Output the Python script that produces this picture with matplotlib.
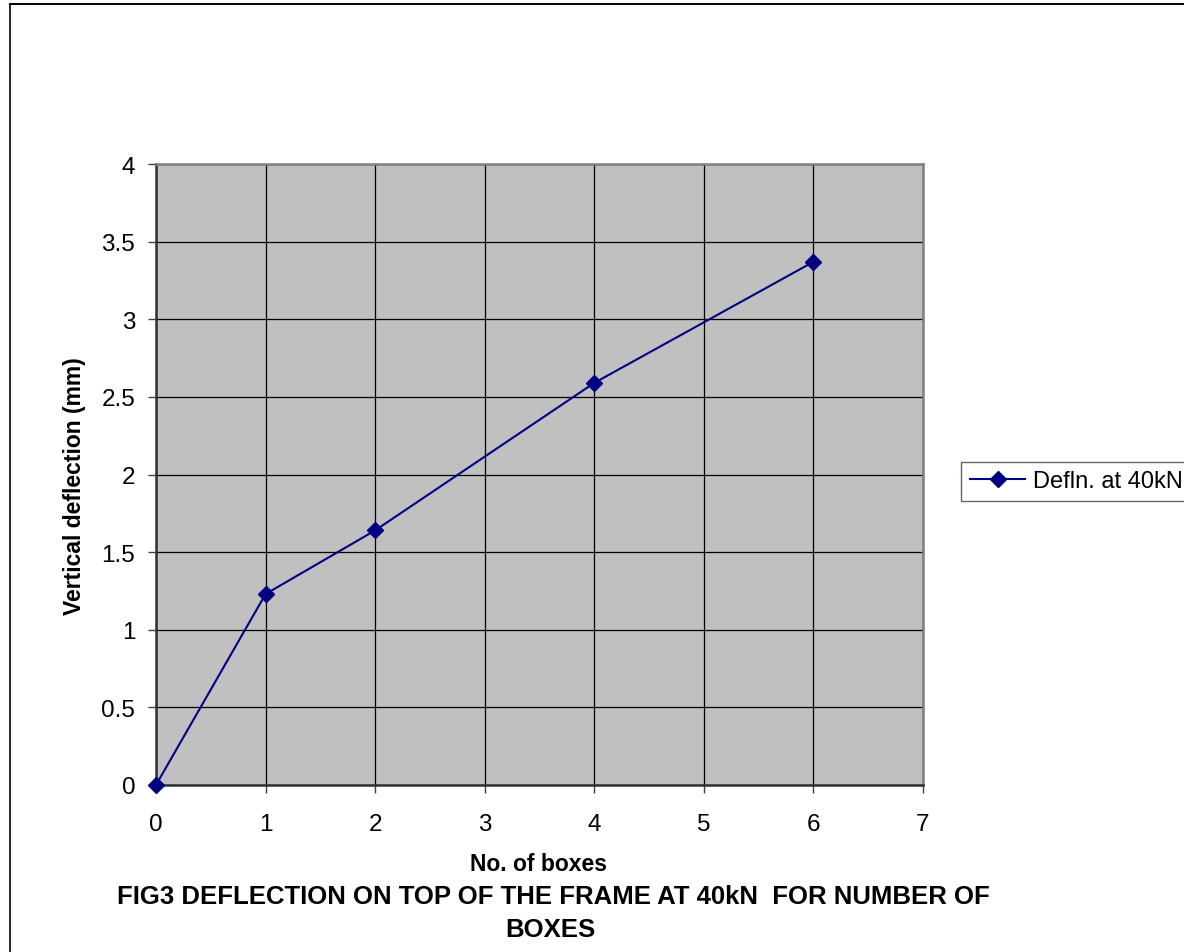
import matplotlib
matplotlib.use("Agg")
import matplotlib.pyplot as plt
from matplotlib.lines import Line2D

plt.rcParams['font.family'] = ['Liberation Sans', 'DejaVu Sans']

boxes = [0, 1, 2, 4, 6]
deflection = [0, 1.23, 1.64, 2.59, 3.37]
series_label = "Defln. at 40kN"
xticks = [0, 1, 2, 3, 4, 5, 6, 7]
yticks = [0, 0.5, 1, 1.5, 2, 2.5, 3, 3.5, 4]
ytick_labels = ["0", "0.5", "1", "1.5", "2", "2.5", "3", "3.5", "4"]

W, H = 1184, 953
fig = plt.figure(figsize=(W / 100, H / 100), dpi=100)
ax = fig.add_axes([156 / W, 1 - 786 / H, (923 - 156) / W, (786 - 165) / H])
ax.set_facecolor('#C0C0C0')

ax.plot(boxes, deflection, color='#000080', lw=1.5, marker='D', markersize=8.5,
        markerfacecolor='#000080', markeredgecolor='#000080', label=series_label,
        clip_on=False, zorder=5)

ax.set_xlim(0, 7)
ax.set_ylim(0, 4)
ax.set_xticks(xticks)
ax.set_yticks(yticks)
ax.set_yticklabels(ytick_labels)
ax.grid(True, color='black', lw=0.9)
ax.set_axisbelow(True)
ax.tick_params(axis='both', direction='out', length=6, width=1, color='#404040',
               labelsize=17.5)
ax.tick_params(axis='x', pad=14.5)
ax.tick_params(axis='y', pad=9)
for s in ['left', 'bottom']:
    ax.spines[s].set_color('#303030')
    ax.spines[s].set_linewidth(1.8)
for s in ['top', 'right']:
    ax.spines[s].set_color('#808080')
    ax.spines[s].set_linewidth(1.8)

fig.text(538 / W, 1 - 865 / H, "No. of boxes", ha='center', va='center',
         fontsize=16.5, fontweight='bold')
fig.text(74 / W, 1 - 486 / H, "Vertical deflection (mm)", ha='center', va='center',
         rotation=90, fontsize=16.5, fontweight='bold')
fig.text(553 / W, 1 - 897 / H,
         "FIG3 DEFLECTION ON TOP OF THE FRAME AT 40kN  FOR NUMBER OF",
         ha='center', va='center', fontsize=18.5, fontweight='bold')
fig.text(550 / W, 1 - 930 / H, "BOXES",
         ha='center', va='center', fontsize=18.5, fontweight='bold')

leg = fig.legend(loc='center left', bbox_to_anchor=(961 / W, 1 - 482.5 / H),
                 fontsize=17, frameon=True, fancybox=False, handlelength=2.35,
                 handletextpad=0.3, borderpad=0.38, borderaxespad=0)
leg.get_frame().set_edgecolor('#404040')
leg.get_frame().set_linewidth(1.0)

fig.add_artist(Line2D([10 / W, 10 / W], [0, 1 - 5 / H], color='black', lw=1.2,
                      transform=fig.transFigure))
fig.add_artist(Line2D([10 / W, 1183 / W], [1 - 5 / H, 1 - 5 / H], color='black',
                      lw=1.4, transform=fig.transFigure))

fig.savefig("out.png", dpi=100)
